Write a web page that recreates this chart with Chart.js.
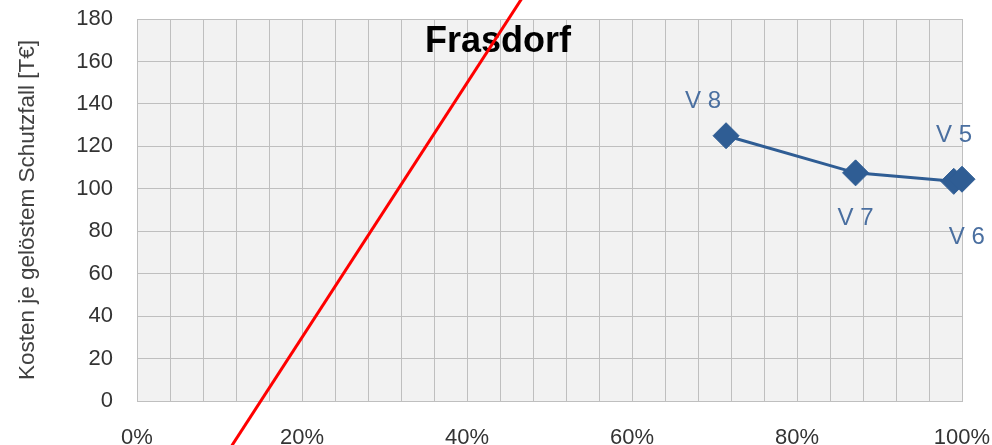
<!DOCTYPE html>
<html><head><meta charset="utf-8">
<script src="https://cdn.jsdelivr.net/npm/chart.js@4/dist/chart.umd.min.js"></script>
<style>html,body{margin:0;padding:0;background:#fff;overflow:hidden}#wrap{width:992px;height:445px;position:relative}</style>
</head><body><div id="wrap"><canvas id="c" width="992" height="445"></canvas></div>
<script>
// ---- data ----
const chartTitle = 'Frasdorf';
const yAxisTitle = 'Kosten je gelöstem Schutzfall [T€]';
const variantLabels = ['V 8', 'V 7', 'V 6', 'V 5'];
const shareSolved = [0.714, 0.871, 0.990, 1.000];
const costPerCase = [125, 107.5, 103.5, 104.5];
const thresholdShare = [0.115, 0.467];
const thresholdCost = [-21, 190];
const yTickValues = [0, 20, 40, 60, 80, 100, 120, 140, 160, 180];
const xTickLabels = ['0%', '20%', '40%', '60%', '80%', '100%'];

// ---- styles / positions (not data) ----
const BLUE = '#2F5D94';
const LABEL_BLUE = '#4A6FA0';
const labelOffsets = [[-23, -34], [0, 46], [13, 56], [-8, -44]];

const titlePlugin = {
  id: 'innerTitle',
  beforeDatasetsDraw(chart) {
    const ctx = chart.ctx, a = chart.chartArea;
    ctx.save();
    ctx.font = 'bold 36px "Liberation Sans", Arial, sans-serif';
    ctx.fillStyle = '#000';
    ctx.textAlign = 'center';
    ctx.textBaseline = 'alphabetic';
    ctx.fillText(chartTitle, a.left + 361, a.top + 33);
    ctx.restore();
  }
};
const labelPlugin = {
  id: 'pointLabels',
  afterDatasetsDraw(chart) {
    const meta = chart.getDatasetMeta(1);
    const ctx = chart.ctx;
    ctx.save();
    ctx.font = '24px "Liberation Sans", Arial, sans-serif';
    ctx.fillStyle = LABEL_BLUE;
    ctx.textAlign = 'center';
    ctx.textBaseline = 'middle';
    meta.data.forEach((el, i) => {
      const o = labelOffsets[i];
      ctx.fillText(variantLabels[i], el.x + o[0], el.y + o[1]);
    });
    ctx.restore();
  }
};

const threshold = thresholdShare.map((x, i) => ({x: x, y: thresholdCost[i]}));
const variants = shareSolved.map((x, i) => ({x: x, y: costPerCase[i]}));

new Chart(document.getElementById('c'), {
  type: 'scatter',
  data: {
    datasets: [
      {data: threshold, showLine: true, borderColor: '#FF0000', borderWidth: 3, pointRadius: 0, clip: false, order: 0},
      {data: variants, showLine: true, borderColor: BLUE, borderWidth: 3, pointStyle: 'rectRot', pointRadius: 13,
       pointBackgroundColor: BLUE, pointBorderColor: BLUE, pointBorderWidth: 1, order: 1, clip: false}
    ]
  },
  options: {
    responsive: false, animation: false, devicePixelRatio: 1,
    layout: {padding: {top: 19, right: 30, left: 0, bottom: 0}},
    plugins: {legend: {display: false}, tooltip: {enabled: false}, title: {display: false}},
    scales: {
      x: {
        type: 'linear', min: 0, max: 1,
        border: {color: '#BFBFBF', width: 1},
        grid: {color: '#BFBFBF', lineWidth: 1, drawTicks: false},
        ticks: {
          stepSize: 0.04, autoSkip: false, maxRotation: 0, padding: 24,
          color: '#333', font: {family: '"Liberation Sans", Arial, sans-serif', size: 22},
          callback: (v) => { const p = Math.round(v * 100); return p % 20 === 0 ? xTickLabels[p / 20] : ''; }
        },
        afterFit: (s) => { s.height = 44; s.paddingLeft = 0; s.paddingRight = 0; s.paddingTop = 0; s.paddingBottom = 0; }
      },
      y: {
        type: 'linear', min: 0, max: 180,
        border: {color: '#BFBFBF', width: 1},
        grid: {color: '#BFBFBF', lineWidth: 1, drawTicks: false},
        afterBuildTicks: (s) => { s.ticks = yTickValues.map(v => ({value: v})); },
        ticks: {padding: 24, color: '#333', font: {family: '"Liberation Sans", Arial, sans-serif', size: 22}},
        title: {display: true, text: yAxisTitle, color: '#404040', padding: {top: 14, bottom: 0},
                font: {family: '"Liberation Sans", Arial, sans-serif', size: 22.5}},
        afterFit: (s) => { s.width = 137; s.paddingLeft = 0; s.paddingRight = 0; s.paddingTop = 0; s.paddingBottom = 0; }
      }
    }
  },
  plugins: [{
    id: 'plotBg',
    beforeDraw(chart) {
      const a = chart.chartArea, ctx = chart.ctx;
      ctx.save(); ctx.fillStyle = '#F2F2F2';
      ctx.fillRect(a.left, a.top, a.right - a.left, a.bottom - a.top);
      ctx.restore();
    }
  }, titlePlugin, labelPlugin]
});
</script></body></html>
